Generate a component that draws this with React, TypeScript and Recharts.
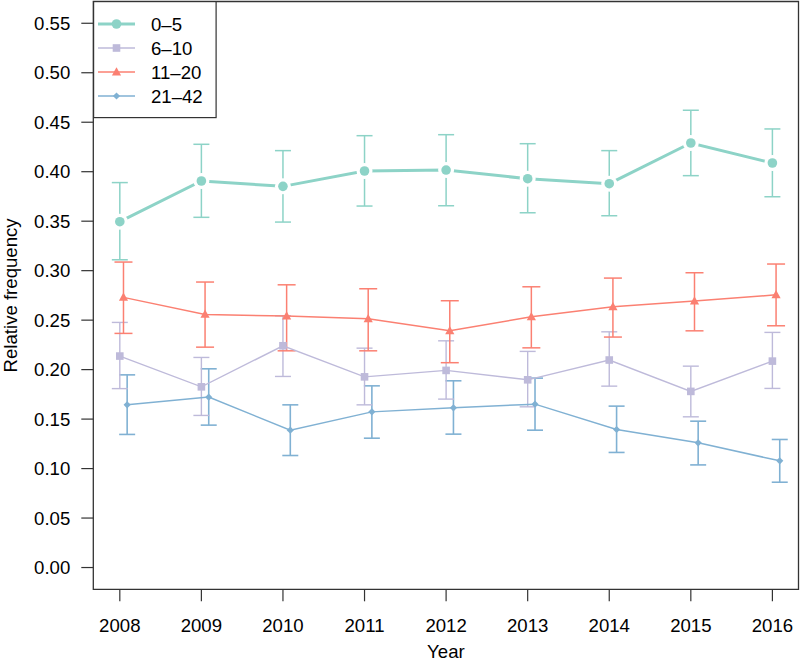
import { ComposedChart, Scatter, XAxis, YAxis, ErrorBar, ReferenceArea, Legend } from "recharts"

const years = [2008, 2009, 2010, 2011, 2012, 2013, 2014, 2015, 2016]
const yTicks = [0, 0.05, 0.1, 0.15, 0.2, 0.25, 0.3, 0.35, 0.4, 0.45, 0.5, 0.55]
const groups = ["0–5", "6–10", "11–20", "21–42"]
const colors = ["#8DD3C7", "#BEBADA", "#FB8072", "#80B1D3"]
// small horizontal dodge (in years) so the error bars don't sit on top of each other
const dodge = [0, 0, 0.045, 0.09]

const freq0to5 = [0.3495, 0.3906, 0.3852, 0.4007, 0.4017, 0.3929, 0.3879, 0.429, 0.4088]
const low0to5 = [0.311, 0.3539, 0.3491, 0.3653, 0.3656, 0.3585, 0.3555, 0.396, 0.3747]
const high0to5 = [0.389, 0.4277, 0.4213, 0.4364, 0.4374, 0.4283, 0.4213, 0.4621, 0.4432]

const freq6to10 = [0.2137, 0.1826, 0.2241, 0.1927, 0.1992, 0.1897, 0.2097, 0.178, 0.2086]
const low6to10 = [0.1808, 0.1537, 0.1931, 0.1644, 0.1702, 0.1624, 0.1833, 0.1523, 0.181]
const high6to10 = [0.2477, 0.2123, 0.2544, 0.2217, 0.2291, 0.2184, 0.2382, 0.2035, 0.2376]

const freq11to20 = [0.273, 0.2558, 0.2541, 0.2514, 0.2392, 0.2534, 0.2635, 0.2693, 0.2756]
const low11to20 = [0.2366, 0.2227, 0.219, 0.219, 0.207, 0.222, 0.2329, 0.2392, 0.2443]
const high11to20 = [0.3087, 0.2885, 0.2857, 0.2817, 0.2696, 0.2837, 0.2925, 0.2979, 0.3067]

const freq21to42 = [0.1644, 0.1722, 0.1388, 0.1573, 0.1614, 0.1651, 0.1395, 0.126, 0.1078]
const low21to42 = [0.1345, 0.1439, 0.1132, 0.1307, 0.1348, 0.1388, 0.1163, 0.1037, 0.0862]
const high21to42 = [0.1947, 0.2008, 0.1644, 0.1836, 0.1887, 0.1914, 0.1631, 0.1479, 0.1294]

const X_MIN = 2007.675
const X_MAX = 2016.32
const Y_MIN = -0.022
const Y_MAX = 0.572

const FONT = "'Liberation Sans', Arial, Helvetica, sans-serif"
const FONT_SIZE = 18.6
const AXIS_COLOR = "#333"

function makeRows(i: number, freq: number[], low: number[], high: number[]) {
    return years.map((yr, k) => ({
        x: yr + dodge[i],
        y: freq[k],
        err: [freq[k] - low[k], high[k] - freq[k]],
    }))
}

const rows0to5 = makeRows(0, freq0to5, low0to5, high0to5)
const rows6to10 = makeRows(1, freq6to10, low6to10, high6to10)
const rows11to20 = makeRows(2, freq11to20, low11to20, high11to20)
const rows21to42 = makeRows(3, freq21to42, low21to42, high21to42)

function Marker({ kind, cx, cy, color }: { kind: number; cx: number; cy: number; color: string }) {
    if (kind === 0) return <circle cx={cx} cy={cy} r={4.8} fill={color} />
    if (kind === 1) return <rect x={cx - 3.8} y={cy - 3.8} width={7.6} height={7.6} fill={color} />
    if (kind === 2)
        return (
            <polygon
                points={`${cx},${cy - 4.8} ${cx - 4.6},${cy + 3.4} ${cx + 4.6},${cy + 3.4}`}
                fill={color}
            />
        )
    return (
        <polygon
            points={`${cx},${cy - 3.6} ${cx + 3.6},${cy} ${cx},${cy + 3.6} ${cx - 3.6},${cy}`}
            fill={color}
        />
    )
}

const shapeFor = (kind: number) => (props: any) =>
    <Marker kind={kind} cx={props.cx} cy={props.cy} color={colors[kind]} />

// white halo around the 0-5 points, gives the gapped "type b" look
const haloShape = (props: any) => <circle cx={props.cx} cy={props.cy} r={8} fill="#fff" />

function LegendBox() {
    return (
        <svg width={124} height={118} style={{ display: "block" }}>
            <rect x={0.6} y={0.6} width={122.5} height={116} fill="#fff" stroke={AXIS_COLOR} strokeWidth={1.2} />
            {groups.map((g, i) => {
                const cy = 23 + i * 24
                return (
                    <g key={g}>
                        <line
                            x1={5}
                            x2={42}
                            y1={cy}
                            y2={cy}
                            stroke={colors[i]}
                            strokeWidth={i === 0 ? 3 : 1.6}
                        />
                        <Marker kind={i} cx={23.5} cy={cy} color={colors[i]} />
                        <text
                            x={58}
                            y={cy}
                            dominantBaseline="central"
                            fontFamily={FONT}
                            fontSize={FONT_SIZE}
                            fill="#000"
                        >
                            {g}
                        </text>
                    </g>
                )
            })}
        </svg>
    )
}

export default function App() {
    return (
        <div style={{ position: "absolute", left: 0, top: 0, width: 800, height: 662, background: "#fff", fontFamily: FONT }}>
            <ComposedChart width={800} height={662} margin={{ top: 1.5, right: 1.5, bottom: 0, left: 0 }}>
                <XAxis
                    dataKey="x"
                    type="number"
                    domain={[X_MIN, X_MAX]}
                    ticks={years}
                    allowDataOverflow
                    height={72.7}
                    axisLine={false}
                    tickSize={12}
                    tickMargin={17}
                    tickLine={{ stroke: AXIS_COLOR, strokeWidth: 1.2 }}
                    tick={{ fill: "#000", fontSize: FONT_SIZE, fontFamily: FONT }}
                    label={(props: any) => {
                        const vb = props.viewBox
                        return (
                            <text
                                x={vb.x + vb.width / 2}
                                y={651}
                                textAnchor="middle"
                                dominantBaseline="central"
                                fontFamily={FONT}
                                fontSize={FONT_SIZE}
                                fill="#000"
                            >
                                Year
                            </text>
                        )
                    }}
                />
                <YAxis
                    dataKey="y"
                    type="number"
                    domain={[Y_MIN, Y_MAX]}
                    ticks={yTicks}
                    allowDataOverflow
                    width={93.3}
                    axisLine={false}
                    tickSize={12}
                    tickMargin={11}
                    tickFormatter={(v: number) => v.toFixed(2)}
                    tickLine={{ stroke: AXIS_COLOR, strokeWidth: 1.2 }}
                    tick={{ fill: "#000", fontSize: FONT_SIZE, fontFamily: FONT }}
                    label={(props: any) => {
                        const vb = props.viewBox
                        const cy = vb.y + vb.height / 2
                        return (
                            <text
                                x={11}
                                y={cy}
                                transform={`rotate(-90, 11, ${cy})`}
                                textAnchor="middle"
                                dominantBaseline="central"
                                fontFamily={FONT}
                                fontSize={FONT_SIZE}
                                fill="#000"
                            >
                                Relative frequency
                            </text>
                        )
                    }}
                />

                <Scatter
                    data={rows21to42}
                    fill={colors[3]}
                    line={{ stroke: colors[3], strokeWidth: 1.5 }}
                    shape={shapeFor(3)}
                    isAnimationActive={false}
                >
                    <ErrorBar dataKey="err" direction="y" width={8} stroke={colors[3]} strokeWidth={1.6} isAnimationActive={false} />
                </Scatter>
                <Scatter
                    data={rows6to10}
                    fill={colors[1]}
                    line={{ stroke: colors[1], strokeWidth: 1.4 }}
                    shape={shapeFor(1)}
                    isAnimationActive={false}
                >
                    <ErrorBar dataKey="err" direction="y" width={8} stroke={colors[1]} strokeWidth={1.4} isAnimationActive={false} />
                </Scatter>
                <Scatter
                    data={rows11to20}
                    fill={colors[2]}
                    line={{ stroke: colors[2], strokeWidth: 1.5 }}
                    shape={shapeFor(2)}
                    isAnimationActive={false}
                >
                    <ErrorBar dataKey="err" direction="y" width={9} stroke={colors[2]} strokeWidth={1.5} isAnimationActive={false} />
                </Scatter>
                <Scatter
                    data={rows0to5}
                    fill={colors[0]}
                    line={{ stroke: colors[0], strokeWidth: 3 }}
                    shape={haloShape}
                    isAnimationActive={false}
                />
                <Scatter data={rows0to5} fill={colors[0]} shape={shapeFor(0)} isAnimationActive={false}>
                    <ErrorBar dataKey="err" direction="y" width={8} stroke={colors[0]} strokeWidth={1.5} isAnimationActive={false} />
                </Scatter>

                <ReferenceArea
                    x1={X_MIN}
                    x2={X_MAX}
                    y1={Y_MIN}
                    y2={Y_MAX}
                    fill="none"
                    stroke={AXIS_COLOR}
                    strokeWidth={1.3}
                    fillOpacity={0}
                />
                <Legend
                    layout="vertical"
                    align="center"
                    verticalAlign="middle"
                    wrapperStyle={{ left: 93, top: 0.5, width: 124, height: 118 }}
                    content={() => <LegendBox />}
                />
            </ComposedChart>
        </div>
    )
}
